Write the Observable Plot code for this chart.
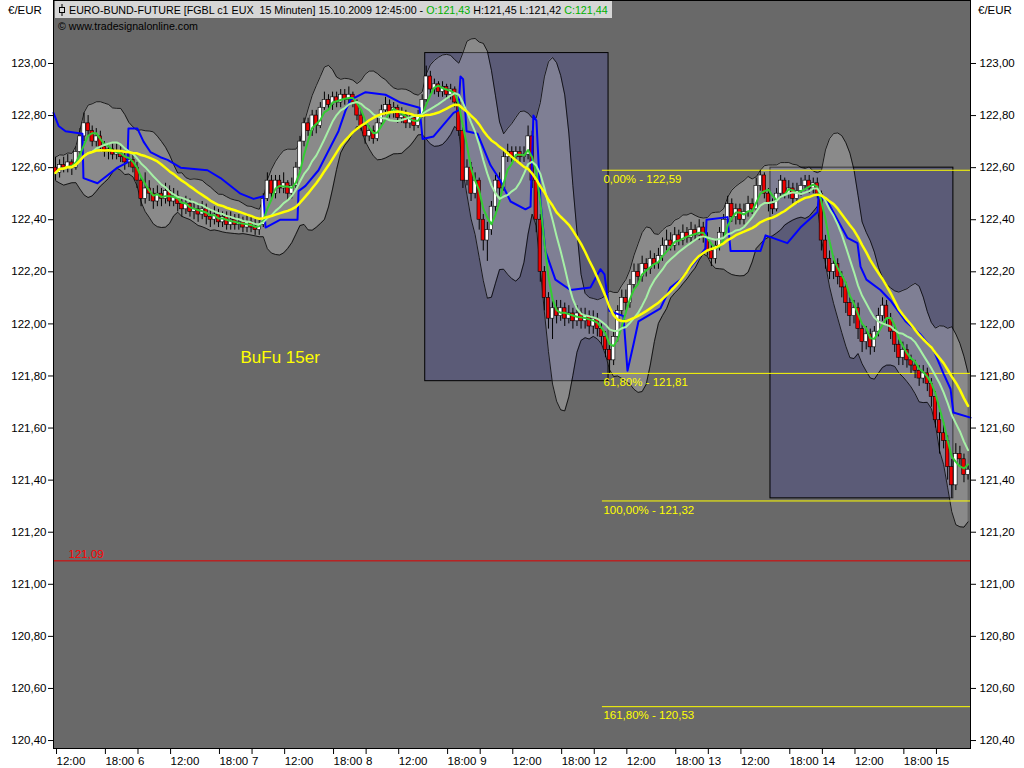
<!DOCTYPE html>
<html><head><meta charset="utf-8">
<script src="https://cdn.jsdelivr.net/npm/d3@7"></script>
<script src="https://cdn.jsdelivr.net/npm/@observablehq/plot@0.6"></script>
<style>
html,body{margin:0;padding:0;background:#fff;}
#chart{width:1024px;height:768px;overflow:hidden}
</style></head><body><div id="chart"></div>
<script>
// 30-minute candles, EURO-BUND-FUTURE, from 5.10.2009 12:00 to 15.10.2009 12:45
const opens = [
122.60,122.58,122.61,122.60,122.62,122.60,122.66,122.72,122.77,122.74,
122.70,122.72,122.68,122.66,122.67,122.65,122.66,122.64,122.62,122.63,
122.60,122.55,122.48,122.52,122.50,122.47,122.50,122.48,122.51,122.47,
122.49,122.46,122.44,122.46,122.43,122.44,122.42,122.44,122.41,122.40,
122.42,122.39,122.41,122.38,122.40,122.38,122.39,122.37,122.39,122.37,
122.36,122.38,122.48,122.55,122.50,122.55,122.52,122.54,122.50,122.53,
122.60,122.70,122.77,122.74,122.80,122.76,122.83,122.86,122.84,122.87,
122.85,122.88,122.86,122.88,122.85,122.80,122.76,122.72,122.74,122.71,
122.77,122.82,122.84,122.81,122.83,122.79,122.80,122.77,122.79,122.76,
122.80,122.86,122.95,122.90,122.92,122.89,122.91,122.88,122.90,122.85,
122.74,122.55,122.60,122.50,122.55,122.40,122.32,122.36,122.45,122.55,
122.52,122.64,122.66,122.64,122.66,122.64,122.65,122.72,122.55,122.40,
122.20,122.10,122.02,122.06,122.03,122.06,122.02,122.04,122.01,122.04,
122.01,122.03,121.99,122.02,121.98,121.95,121.90,121.86,121.95,122.05,
122.10,122.08,122.15,122.20,122.18,122.23,122.21,122.25,122.23,122.26,
122.30,122.32,122.30,122.34,122.32,122.35,122.33,122.36,122.34,122.37,
122.33,122.28,122.25,122.30,122.35,122.40,122.46,122.41,122.44,122.40,
122.43,122.46,122.44,122.53,122.57,122.50,122.46,122.44,122.50,122.55,
122.50,122.52,122.48,122.51,122.53,122.55,122.52,122.54,122.50,122.32,
122.25,122.20,122.23,122.18,122.14,122.08,122.03,122.06,121.98,121.93,
121.96,121.91,121.97,122.03,122.07,122.02,121.97,121.92,121.87,121.90,
121.86,121.84,121.82,121.79,121.81,121.77,121.72,121.63,121.58,121.55,
121.45,121.38,121.50,121.48,121.42];
const highs = [
122.64,122.63,122.64,122.65,122.63,122.68,122.75,122.81,122.80,122.76,
122.75,122.74,122.70,122.69,122.69,122.69,122.68,122.66,122.66,122.65,
122.62,122.56,122.58,122.55,122.52,122.53,122.52,122.54,122.53,122.52,
122.51,122.48,122.49,122.48,122.47,122.46,122.47,122.46,122.44,122.45,
122.44,122.43,122.43,122.43,122.42,122.42,122.41,122.42,122.41,122.40,
122.40,122.50,122.58,122.57,122.57,122.57,122.58,122.55,122.56,122.62,
122.72,122.79,122.79,122.82,122.82,122.85,122.89,122.88,122.89,122.89,
122.90,122.90,122.91,122.89,122.86,122.82,122.77,122.76,122.76,122.79,
122.84,122.87,122.86,122.85,122.84,122.83,122.82,122.81,122.80,122.82,
122.88,122.99,122.97,122.94,122.93,122.93,122.92,122.92,122.91,122.86,
122.76,122.63,122.62,122.58,122.56,122.42,122.39,122.47,122.57,122.58,
122.66,122.69,122.68,122.68,122.68,122.68,122.76,122.74,122.57,122.42,
122.22,122.12,122.09,122.09,122.09,122.08,122.07,122.06,122.07,122.06,
122.06,122.05,122.05,122.04,122.00,121.97,121.92,121.97,122.07,122.13,
122.13,122.17,122.23,122.23,122.26,122.25,122.28,122.27,122.29,122.33,
122.36,122.35,122.37,122.36,122.38,122.37,122.39,122.38,122.40,122.39,
122.35,122.30,122.32,122.37,122.42,122.49,122.48,122.46,122.46,122.46,
122.49,122.48,122.56,122.59,122.58,122.52,122.48,122.52,122.57,122.56,
122.55,122.54,122.54,122.56,122.57,122.57,122.56,122.56,122.51,122.34,
122.28,122.26,122.25,122.20,122.16,122.10,122.09,122.08,122.00,121.99,
121.98,121.99,122.06,122.10,122.09,122.04,121.99,121.94,121.93,121.92,
121.88,121.86,121.84,121.84,121.83,121.79,121.74,121.66,121.62,121.57,
121.48,121.54,121.53,121.50,121.46];
const lows = [
122.55,122.56,122.58,122.58,122.57,122.59,122.65,122.70,122.72,122.68,
122.68,122.66,122.64,122.63,122.63,122.63,122.62,122.59,122.60,122.58,
122.52,122.45,122.46,122.47,122.44,122.45,122.45,122.46,122.45,122.45,
122.43,122.41,122.42,122.41,122.40,122.39,122.40,122.38,122.37,122.38,
122.37,122.37,122.36,122.36,122.36,122.36,122.35,122.35,122.35,122.34,
122.34,122.37,122.47,122.48,122.48,122.50,122.50,122.47,122.48,122.52,
122.59,122.68,122.72,122.72,122.73,122.75,122.82,122.82,122.82,122.83,
122.83,122.84,122.84,122.83,122.78,122.74,122.69,122.70,122.69,122.70,
122.76,122.80,122.79,122.79,122.77,122.77,122.75,122.75,122.74,122.75,
122.79,122.85,122.88,122.88,122.87,122.87,122.86,122.86,122.83,122.72,
122.52,122.53,122.47,122.48,122.36,122.28,122.24,122.34,122.43,122.49,
122.51,122.62,122.62,122.62,122.62,122.62,122.63,122.52,122.35,122.16,
122.05,121.98,121.94,122.00,122.01,121.99,122.00,121.98,121.99,121.98,
121.98,121.96,121.96,121.95,121.92,121.87,121.81,121.84,121.93,122.03,
122.05,122.06,122.13,122.15,122.16,122.18,122.19,122.21,122.21,122.24,
122.28,122.28,122.28,122.30,122.30,122.31,122.31,122.32,122.32,122.31,
122.26,122.22,122.23,122.28,122.33,122.38,122.39,122.38,122.38,122.38,
122.41,122.42,122.43,122.51,122.48,122.43,122.42,122.43,122.48,122.48,
122.48,122.46,122.46,122.49,122.51,122.50,122.50,122.48,122.28,122.21,
122.17,122.17,122.15,122.10,122.04,121.99,122.00,121.94,121.89,121.90,
121.88,121.89,121.95,122.01,121.99,121.94,121.89,121.84,121.84,121.83,
121.81,121.79,121.76,121.77,121.74,121.68,121.60,121.50,121.52,121.40,
121.33,121.36,121.45,121.39,121.40];
const closes = [
122.58,122.61,122.60,122.62,122.60,122.66,122.72,122.77,122.74,122.70,
122.72,122.68,122.66,122.67,122.65,122.66,122.64,122.62,122.63,122.60,
122.55,122.48,122.52,122.50,122.47,122.50,122.48,122.51,122.47,122.49,
122.46,122.44,122.46,122.43,122.44,122.42,122.44,122.41,122.40,122.42,
122.39,122.41,122.38,122.40,122.38,122.39,122.37,122.39,122.37,122.36,
122.38,122.48,122.55,122.50,122.55,122.52,122.54,122.50,122.53,122.60,
122.70,122.77,122.74,122.80,122.76,122.83,122.86,122.84,122.87,122.85,
122.88,122.86,122.88,122.85,122.80,122.76,122.72,122.74,122.71,122.77,
122.82,122.84,122.81,122.83,122.79,122.80,122.77,122.79,122.76,122.80,
122.86,122.95,122.90,122.92,122.89,122.91,122.88,122.90,122.85,122.74,
122.55,122.60,122.50,122.55,122.40,122.32,122.36,122.45,122.55,122.52,
122.64,122.66,122.64,122.66,122.64,122.65,122.72,122.55,122.40,122.20,
122.10,122.02,122.06,122.03,122.06,122.02,122.04,122.01,122.04,122.01,
122.03,121.99,122.02,121.98,121.95,121.90,121.86,121.95,122.05,122.10,
122.08,122.15,122.20,122.18,122.23,122.21,122.25,122.23,122.26,122.30,
122.32,122.30,122.34,122.32,122.35,122.33,122.36,122.34,122.37,122.33,
122.28,122.25,122.30,122.35,122.40,122.46,122.41,122.44,122.40,122.43,
122.46,122.44,122.53,122.57,122.50,122.46,122.44,122.50,122.55,122.50,
122.52,122.48,122.51,122.53,122.55,122.52,122.54,122.50,122.32,122.25,
122.20,122.23,122.18,122.14,122.08,122.03,122.06,121.98,121.93,121.96,
121.91,121.97,122.03,122.07,122.02,121.97,121.92,121.87,121.90,121.86,
121.84,121.82,121.79,121.81,121.77,121.72,121.63,121.58,121.55,121.45,
121.38,121.50,121.48,121.42,121.44];

// blue indicator line (x in 15-minute bar units)
const blueBars = [-0.5,2,5.4,13.7,14.2,21.1,22.6,30.9,35.8,36.3,40.7,43.7,47.1,52,55.5,61.9,75.1,81.5,91.3,97.7,
102.6,103.6,110.9,119.3,119.8,123.2,129.6,135.5,139.4,142.9,145.3,152.7,162.5,169.9,179.2,180.7,186.1,195.9,198.3,199.3,
200.6,202.3,207.7,214,218.9,223.9,231.2,233.7,235.1,236.6,238.6,241,245.9,253.3,263.1,268.0,270.0,272.4,279.3,281.3,
284.2,286.7,297.5,302.4,307.3,315.7,319.6,320.1,330.4,331.9,346.6,349.1,359.8,366.2,374.6,375.1,379.5,389.3,394.2,395.7,
398.6,405.5,410.4,417.8,425.1,431.5,436.4,439.9,441.3,449.7];
const bluePrices = [122.81,122.76,122.74,122.73,122.56,122.54,122.55,122.60,122.62,122.75,122.75,122.70,122.66,122.64,122.63,122.60,122.59,122.56,122.50,122.48,
122.49,122.37,122.40,122.40,122.51,122.53,122.59,122.68,122.74,122.82,122.86,122.89,122.88,122.85,122.83,122.71,122.72,122.81,122.82,122.95,
122.94,122.74,122.73,122.61,122.55,122.47,122.44,122.45,122.80,122.78,122.47,122.28,122.17,122.13,122.14,122.21,122.19,122.05,122.03,121.82,
121.92,122.01,122.06,122.14,122.17,122.25,122.29,122.40,122.41,122.28,122.28,122.34,122.31,122.37,122.43,122.49,122.47,122.33,122.31,122.22,
122.17,122.13,122.09,122.01,121.96,121.90,121.81,121.75,121.66,121.64];

const priceTicks = [120.4,120.6,120.8,121.0,121.2,121.4,121.6,121.8,122.0,122.2,122.4,122.6,122.8,123.0];
const timeTicks = [0,24,40,56,80,96,112,136,152,168,192,208,224,248,264,280,304,320,336,360,376,392,416,432];
const timeLabels = ["12:00","18:00","6","12:00","18:00","7","12:00","18:00","8","12:00","18:00","9",
                    "12:00","18:00","12","12:00","18:00","13","12:00","18:00","14","12:00","18:00","15"];
const fibLevels = [122.59, 121.81, 121.32, 120.53];
const fibLabels = ["0,00% - 122,59", "61,80% - 121,81", "100,00% - 121,32", "161,80% - 120,53"];
const fibStartBar = 269;
const boxStart = [182, 351.5];
const boxEnd = [272, 441.3];
const boxHigh = [123.04, 122.60];
const boxLow = [121.78, 121.33];
const refLevel = 121.09;
const refLabelBar = 6.9;
const notes = [{label: "BuFu 15er", bar: 91.3, price: 121.871}];
const titleParts = [
  {text: "EURO-BUND-FUTURE [FGBL c1 EUX  15 Minuten] 15.10.2009 12:45:00 - ", color: "black"},
  {text: "O:121,43", color: "#00b000"},
  {text: " H:121,45 L:121,42 ", color: "black"},
  {text: "C:121,44", color: "#00b000"}
];
const xDomain = [-0.5, 449.7];
const yDomain = [120.3694, 123.2419];

const FONT = "'Liberation Sans', Arial, sans-serif";
const candles = closes.map((c, i) => ({t: 2 * i + 0.5, open: opens[i], high: highs[i], low: lows[i], close: c}));
const blue = blueBars.map((b, i) => ({t: b, p: bluePrices[i]}));
const fibs = fibLevels.map((p, i) => ({p, label: fibLabels[i]}));
const boxes = boxStart.map((s, i) => ({x1: s, x2: boxEnd[i], y1: boxLow[i], y2: boxHigh[i]}));
const fmt = d => d.toFixed(2).replace(".", ",");
const tickLabel = new Map(timeTicks.map((t, i) => [t, timeLabels[i]]));
const win = (k, reduce) => ({k, anchor: "end", strict: false, reduce});
const bbUp = v => d3.mean(v) + 2 * (d3.deviation(v) || 0);
const bbDn = v => d3.mean(v) - 2 * (d3.deviation(v) || 0);

const chart = Plot.plot({
  width: 1024, height: 768,
  marginLeft: 53, marginRight: 54, marginTop: 0, marginBottom: 20,
  x: {domain: xDomain},
  y: {domain: yDomain},
  style: {background: "white", color: "black", fontFamily: FONT, fontSize: "11.5px", overflow: "visible"},
  marks: [
    Plot.frame({fill: "#696969", stroke: "none"}),
    Plot.rect(boxes, {x1: "x1", x2: "x2", y1: "y1", y2: "y2", fill: "#5b5b77", stroke: "black"}),
    Plot.areaY(candles, Plot.map({y1: Plot.window(win(10, bbDn)), y2: Plot.window(win(10, bbUp))},
      {x: "t", y1: "low", y2: "high", fill: "white", fillOpacity: 0.22})),
    Plot.lineY(candles, Plot.windowY(win(10, bbUp), {x: "t", y: "high", stroke: "black", strokeWidth: 0.8})),
    Plot.lineY(candles, Plot.windowY(win(10, bbDn), {x: "t", y: "low", stroke: "black", strokeWidth: 0.8})),
    Plot.ruleY([refLevel], {stroke: "#e00000"}),
    Plot.text([refLevel], {x: refLabelBar, y: d => d, text: fmt, dy: -7, textAnchor: "start", fill: "#ff0000"}),
    Plot.ruleY(fibs, {y: "p", x1: fibStartBar, x2: xDomain[1], stroke: "#ffff00"}),
    Plot.text(fibs, {x: fibStartBar, y: "p", text: "label", dy: 9, dx: 1, textAnchor: "start", fill: "#ffff00"}),
    Plot.ruleX(candles, {x: "t", y1: "low", y2: "high", stroke: "black"}),
    Plot.rect(candles, {x1: d => d.t - 0.85, x2: d => d.t + 0.85, y1: "open", y2: "close",
      fill: d => d.close >= d.open ? "white" : "#ee0000", stroke: "black", strokeWidth: 0.6}),
    Plot.line(blue, {x: "t", y: "p", stroke: "#0000ff", strokeWidth: 2}),
    Plot.lineY(candles, Plot.windowY(win(4, "mean"), {x: "t", y: "close", stroke: "#33cc33", strokeWidth: 2})),
    Plot.lineY(candles, Plot.windowY(win(10, "mean"), {x: "t", y: "close", stroke: "#a6f0a6", strokeWidth: 2})),
    Plot.lineY(candles, Plot.windowY(win(20, "mean"), {x: "t", y: "close", stroke: "#ffff00", strokeWidth: 2.5})),
    Plot.text(notes, {x: "bar", y: "price", text: "label", fill: "#ffff00", fontSize: 17, textAnchor: "start"}),
    Plot.frame({stroke: "black"}),
    Plot.axisY({anchor: "left", ticks: priceTicks, tickFormat: fmt, tickSize: 5, tickPadding: 2, label: null}),
    Plot.axisY({anchor: "right", ticks: priceTicks, tickFormat: fmt, tickSize: 5, tickPadding: 4, label: null}),
    Plot.axisX({ticks: timeTicks, tickFormat: d => tickLabel.get(d), tickSize: 6, tickPadding: 2,
      textAnchor: "start", dx: 2, label: null})
  ]
});
document.getElementById("chart").appendChild(chart);

// header decorations
const svg = d3.select(chart);
const g = svg.append("g").attr("font-family", FONT).attr("font-size", 11.5)
  .attr("text-anchor", "start").attr("fill", "black");
g.append("text").attr("x", 8).attr("y", 14).attr("text-anchor", "start").text("€/EUR");
g.append("text").attr("x", 978).attr("y", 14).attr("text-anchor", "start").text("€/EUR");
g.append("rect").attr("x", 55).attr("y", 1).attr("width", 557).attr("height", 17).attr("fill", "#d6d6d6");
g.append("line").attr("x1", 62).attr("x2", 62).attr("y1", 4).attr("y2", 16).attr("stroke", "black");
g.append("rect").attr("x", 59.5).attr("y", 7.5).attr("width", 5).attr("height", 5).attr("fill", "#d6d6d6").attr("stroke", "black");
const title = g.append("text").attr("x", 69).attr("y", 14).attr("text-anchor", "start").style("white-space", "pre");
titleParts.forEach(p => title.append("tspan").attr("fill", p.color).text(p.text));
const natural = title.node().getComputedTextLength();
title.attr("font-size", 11.5 * 539 / natural);
const copy = g.append("text").attr("x", 58).attr("y", 30).attr("font-size", 11).attr("text-anchor", "start")
  .text("© www.tradesignalonline.com");
copy.attr("font-size", 11 * 140 / copy.node().getComputedTextLength());
</script></body></html>
